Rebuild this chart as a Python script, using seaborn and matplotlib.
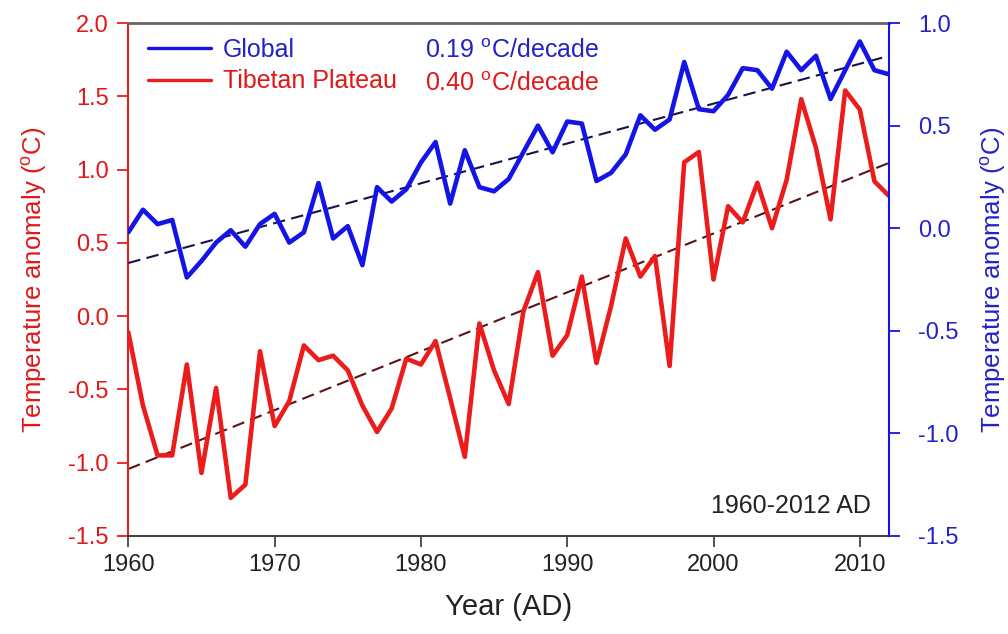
import numpy as np
import pandas as pd
import matplotlib
matplotlib.use('Agg')
import matplotlib.pyplot as plt
import seaborn as sns
from matplotlib.lines import Line2D

# Données (anomalies de température, °C)
years = list(range(1960, 2013))

tibet = [-0.11, -0.61, -0.95, -0.95, -0.33, -1.07, -0.49, -1.24, -1.15, -0.24,
         -0.75, -0.58, -0.20, -0.30, -0.27, -0.37, -0.61, -0.79, -0.63, -0.29,
         -0.33, -0.17, -0.56, -0.96, -0.05, -0.37, -0.60, 0.03, 0.30, -0.27,
         -0.13, 0.27, -0.32, 0.07, 0.53, 0.27, 0.41, -0.34, 1.05, 1.12,
         0.25, 0.75, 0.64, 0.91, 0.60, 0.93, 1.48, 1.15, 0.66, 1.54,
         1.41, 0.92, 0.82]

glob = [-0.02, 0.09, 0.02, 0.04, -0.24, -0.16, -0.07, -0.01, -0.09, 0.02,
        0.07, -0.07, -0.02, 0.22, -0.05, 0.01, -0.18, 0.20, 0.13, 0.19,
        0.32, 0.42, 0.12, 0.38, 0.20, 0.18, 0.24, 0.37, 0.50, 0.37,
        0.52, 0.51, 0.23, 0.27, 0.36, 0.55, 0.48, 0.53, 0.81, 0.58,
        0.57, 0.65, 0.78, 0.77, 0.68, 0.86, 0.77, 0.84, 0.63, 0.77,
        0.91, 0.77, 0.75]

series_names = ['Global', 'Tibetan Plateau']
rates = ['0.19', '0.40']
period_label = '1960-2012 AD'

left_ticks = [-1.5, -1.0, -0.5, 0.0, 0.5, 1.0, 1.5, 2.0]
right_ticks = [-1.5, -1.0, -0.5, 0.0, 0.5, 1.0]
x_ticks = [1960, 1970, 1980, 1990, 2000, 2010]

df = pd.DataFrame({'year': years, 'tibet': tibet, 'global': glob})

sns.set_style('ticks')
plt.rcParams['font.family'] = ['Liberation Sans', 'DejaVu Sans']
plt.rcParams['mathtext.fontset'] = 'custom'
plt.rcParams['mathtext.rm'] = 'Liberation Sans'
plt.rcParams['axes.unicode_minus'] = False

red = '#ec1c1c'
red_txt = '#e01818'
blue = '#1414e6'
blue_txt = '#2222c8'

fig = plt.figure(figsize=(10.08, 6.34), dpi=100)
ax = fig.add_axes([0.1273, 0.1546, 0.7547, 0.8091])
ax2 = ax.twinx()

# Courbes Tibet (axe gauche)
sns.lineplot(data=df, x='year', y='tibet', ax=ax, color=red, linewidth=3.3, zorder=3)
sns.regplot(data=df, x='year', y='tibet', ax=ax, scatter=False, ci=None, truncate=True,
            line_kws=dict(color='#5a1414', linewidth=1.5, linestyle=(0, (6, 3)), zorder=2))

# Courbes globales (axe droit)
sns.lineplot(data=df, x='year', y='global', ax=ax2, color=blue, linewidth=3.3, zorder=3)
sns.regplot(data=df, x='year', y='global', ax=ax2, scatter=False, ci=None, truncate=True,
            line_kws=dict(color='#14144a', linewidth=1.5, linestyle=(0, (6, 3)), zorder=2))

ax.set_xlim(1960, 2012)
ax.set_ylim(-1.5, 2.0)
ax2.set_ylim(-1.5, 1.0)

ax.set_xticks(x_ticks)
ax.set_yticks(left_ticks)
ax.set_yticklabels(['%.1f' % v for v in left_ticks])
ax2.set_yticks(right_ticks)
ax2.set_yticklabels(['%.1f' % v for v in right_ticks])

ax.set_xlabel('Year (AD)', fontsize=21, color='#222222', labelpad=12)
ax.set_ylabel(r'Temperature anomaly ($^{\mathrm{o}}$C)', fontsize=18.5, color=red_txt, labelpad=14)
ax2.set_ylabel(r'Temperature anomaly ($^{\mathrm{o}}$C)', fontsize=18.5, color=blue_txt, labelpad=14)

ax.tick_params(axis='x', direction='out', length=8, width=1.3, colors='#444444',
               labelcolor='#222222', labelsize=17, pad=5)
ax.tick_params(axis='y', direction='out', length=8, width=1.3, colors=red,
               labelcolor=red_txt, labelsize=17, pad=6)
ax2.tick_params(axis='y', direction='out', length=8, width=1.3, colors=blue,
                labelcolor=blue_txt, labelsize=17, pad=13)

# Bordures
ax.spines['left'].set_color(red)
ax.spines['left'].set_linewidth(1.5)
ax.spines['right'].set_visible(False)
ax.spines['top'].set_color('#666666')
ax.spines['top'].set_linewidth(2)
ax.spines['bottom'].set_color('#444444')
ax.spines['bottom'].set_linewidth(1.5)
ax2.spines['right'].set_color(blue)
ax2.spines['right'].set_linewidth(1.5)
ax2.spines['left'].set_visible(False)
ax2.spines['top'].set_visible(False)
ax2.spines['bottom'].set_visible(False)

# Légende
handles = [Line2D([], [], color=blue, linewidth=2.4), Line2D([], [], color=red, linewidth=2.4)]
ax2.legend(handles, series_names, loc='upper left', bbox_to_anchor=(0.026, 0.971),
           frameon=False, fontsize=18, handlelength=2.5, handletextpad=0.5,
           labelspacing=0.3, borderpad=0, borderaxespad=0, labelcolor=[blue_txt, red_txt])

ax2.text(0.39, 0.945, rates[0] + r' $^{\mathrm{o}}$C/decade', transform=ax2.transAxes,
         fontsize=18, color=blue_txt, va='center', ha='left')
ax2.text(0.39, 0.882, rates[1] + r' $^{\mathrm{o}}$C/decade', transform=ax2.transAxes,
         fontsize=18, color=red_txt, va='center', ha='left')
ax2.text(0.976, 0.058, period_label, transform=ax2.transAxes,
         fontsize=18, color='#222222', va='center', ha='right')

plt.savefig('out.png', dpi=100)
